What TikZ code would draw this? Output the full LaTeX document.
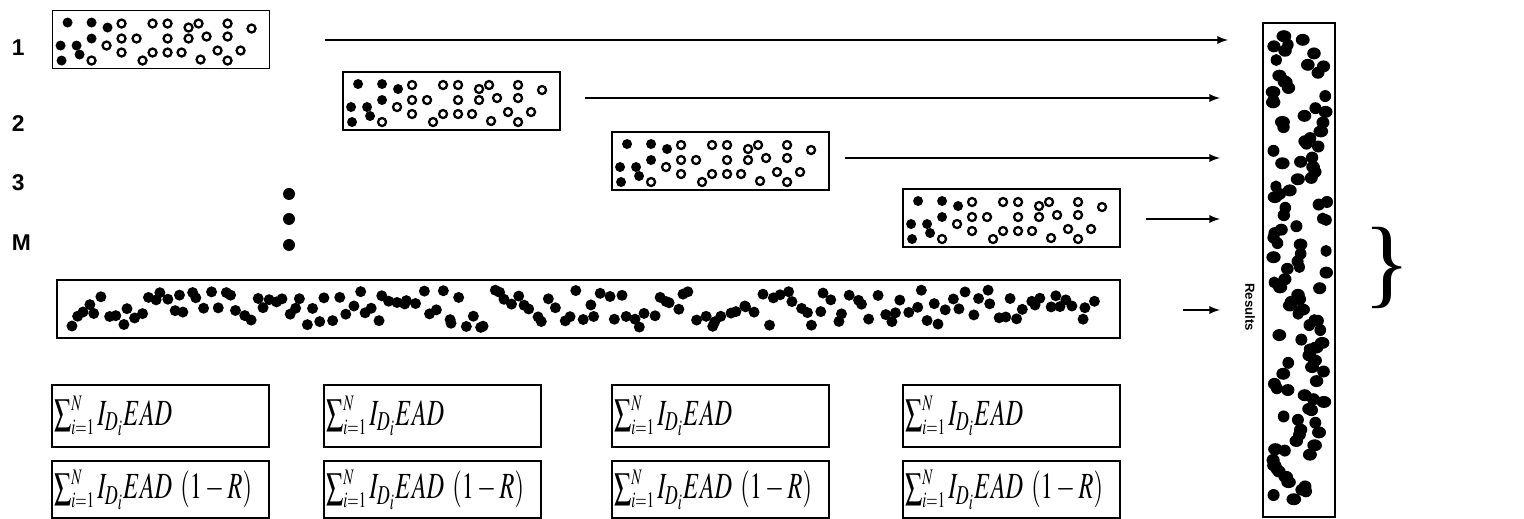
\documentclass[tikz,border=0pt]{standalone}
\usepackage{mathptmx}
\usepackage{fontspec}
\setmainfont{Liberation Serif}
\setsansfont{Liberation Sans}

\newcommand{\sample}{%
    \foreach \x/\y in {16/13, 40/13, 56/18, 40/29, 9/36, 25/36, 28/45, 10/51}{
        \fill (\x, \y) circle (0.1cm);
    };
    \foreach \x/\y in
        {70/14, 101/14, 116/14, 147/14, 137/18, 176/14, 200/19,
         70/29, 85/29, 116/29, 137/29, 155/27, 176/27, 55/36,
         70/43, 101/43, 116/43, 130/43, 166/41, 189/41,
         40/51, 91/51, 149/50, 176/51}{
        \draw[line width=1.3pt] (\x, \y) circle (0.08cm);
    };}
\newcommand{\loss}[1]{\scalebox{0.66}[1]{$\sum\nolimits_{\scriptscriptstyle i=1}^{\scriptscriptstyle N}
    I_{D_i} EAD#1$}}

\begin{document}
\begin{tikzpicture}[x=0.02cm, y=-0.02cm, line width=1.1pt,
        box/.style={draw, minimum width=4.34cm, minimum height=1.16cm, inner sep=0pt},
        sumbox/.style={draw, text width=4.26cm, inner xsep=0.04cm, inner ysep=0pt,
            minimum height=#1, align=left, font=\fontsize{21}{24}\selectfont},
        lab/.style={font=\sffamily\bfseries\fontsize{13}{15}\selectfont, inner sep=0pt}]
    \useasboundingbox (0, 0) rectangle (1524, 519);
    \foreach \i/\y in {1/48, 2/124, 3/183, M/243}{
        \node[lab, anchor=west] (l\i) at (11, \y) {\i};
    }
    \foreach \y in {194, 219, 245}{
        \fill (289, \y) circle (0.12cm);
    }
    \foreach \i/\cx/\cy in {1/161/39.5, 2/451.5/101, 3/720.5/161, 4/1011.5/218}{
        \node[box] (s\i) at (\cx, \cy) {};
        \begin{scope}[shift={(s\i.north west)}]
            \sample
        \end{scope}
    }
    \node[box, minimum width=21.26cm] (sM) at (588.5, 309) {};
    \pgfmathsetseed{11}
    \foreach \k in {0, 1, ..., 160}{
        \pgfmathsetmacro{\dx}{70 + 6.4 * \k + 3 * rand}
        \pgfmathsetmacro{\dy}{290 + 38 * rnd}
        \fill (\dx, \dy) circle (0.11cm);
    }
    \node[draw, minimum width=1.44cm, minimum height=9.88cm, inner sep=0pt]
        (res) at (1299, 270) {};
    \foreach \k in {0, 1, ..., 115}{
        \pgfmathsetmacro{\dx}{1273 + 54 * rnd}
        \pgfmathsetmacro{\dy}{35 + 4.05 * \k + 2 * rand}
        \pgfmathsetmacro{\rx}{0.11 + 0.04 * rnd}
        \fill (\dx, \dy) ellipse [x radius=\rx cm, y radius=0.12cm];
    }
    \node[font=\sffamily\bfseries\fontsize{7.5}{9}\selectfont, rotate=-90]
        (reslab) at (1250, 307) {Results};
    \node[font=\fontsize{56}{56}\selectfont, inner sep=0pt] (brace) at (1387, 268) {\}};
    \foreach \i/\xa/\xb/\y in
        {1/325/1228/40, 2/585/1220/98, 3/845/1220/158, 4/1146/1220/219, 5/1183/1220/310}{
        \coordinate (p\i) at (\xa, \y);
        \coordinate (q\i) at (\xb, \y);
        \draw[-latex] (p\i) -- (q\i);
    }
    \foreach \i/\cx in {1/160.5, 2/432.5, 3/720.5, 4/1011.5}{
        \node[sumbox=1.24cm] (f\i) at (\cx, 416) {\loss{}};
        \node[sumbox=1.14cm] (g\i) at (\cx, 489.5) {\loss{\ (1-R)}};
    }
\end{tikzpicture}
\end{document}
